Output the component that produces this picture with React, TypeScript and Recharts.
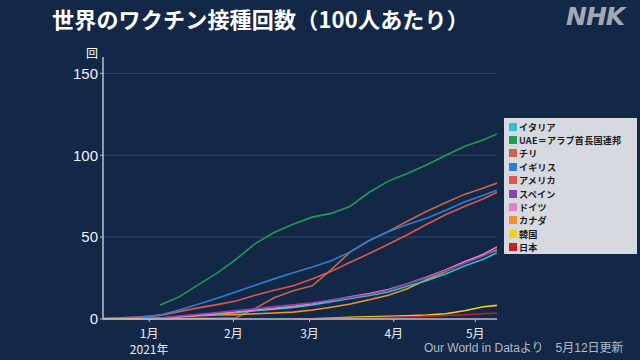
import React from "react";
import { LineChart, Line, XAxis, YAxis, CartesianGrid } from "recharts";

// days since 2021-01-01
const days = [-17, -10, -3, 4, 11, 18, 25, 32, 39, 46, 53, 60, 67, 74, 81, 88, 95, 102, 109, 116, 123, 128];

type V = number | null;
const italy: V[] = [null, null, 0.1, 0.5, 1.5, 2.5, 3.2, 3.9, 5, 6, 7.1, 8.5, 10.5, 12.5, 14.3, 16.5, 20, 23.3, 27.5, 32.3, 36.5, 40.5];
const uae: V[] = [null, null, null, 8.5, 13.5, 20.8, 28, 36.5, 46, 52.8, 57.9, 62.2, 64.5, 68.9, 77.4, 84.2, 88.8, 94, 99.9, 105.3, 109.5, 113];
const chile: V[] = [null, 0, 0.1, 0.2, 0.3, 0.4, 0.5, 0.8, 6.5, 13, 17.2, 20.3, 30.2, 41, 47.9, 53.5, 59.7, 65.7, 71, 76.1, 80, 83];
const uk: V[] = [0.4, 0.8, 1.1, 2.5, 5.5, 9, 12.7, 16.7, 20.6, 24.5, 28.3, 31.8, 35.6, 41, 48, 53.3, 57.7, 61.5, 66.3, 71.4, 75.5, 78.7];
const usa: V[] = [0.3, 0.8, 1.3, 2.2, 4.5, 6.8, 8.8, 11, 14.5, 17.5, 20.3, 24.4, 29.1, 34.6, 40, 45.6, 51.5, 57.7, 63.7, 68.7, 73.5, 77.4];
const spain: V[] = [null, null, 0.05, 0.6, 1.8, 2.9, 4, 5.2, 6.3, 7.6, 8.7, 9.9, 11.6, 13.2, 15, 17.5, 21.5, 25, 29.5, 34, 38.5, 43];
const germany: V[] = [null, null, 0.1, 0.6, 1.5, 2.3, 3.2, 4.3, 5.5, 6.6, 7.8, 9.3, 11.5, 13.5, 15.5, 18, 21.5, 25.5, 30, 35, 39.5, 44];
const canada: V[] = [0, 0.2, 0.3, 0.6, 1.2, 2, 2.4, 2.7, 3.2, 3.7, 4.2, 5.5, 7.2, 9.2, 11.7, 14.5, 18.5, 24, 29, 34.5, 39, 42];
const korea: V[] = [null, null, null, null, null, null, null, null, null, null, null, 0.1, 0.6, 1.1, 1.4, 1.7, 2, 2.4, 3.2, 5, 7.5, 8.3];
const japan: V[] = [null, null, null, null, null, null, null, null, null, null, 0.05, 0.1, 0.2, 0.4, 0.7, 1, 1.2, 1.6, 2.1, 2.6, 3.2, 3.7];

const seriesNames = ["イタリア", "UAE＝アラブ首長国連邦", "チリ", "イギリス", "アメリカ", "スペイン", "ドイツ", "カナダ", "韓国", "日本"];
const seriesValues = [italy, uae, chile, uk, usa, spain, germany, canada, korea, japan];
const seriesColors = ["#2cc3cc", "#1f9b58", "#c9654b", "#2f7fd0", "#e0554f", "#8a44a8", "#ea7fc9", "#f0922e", "#f3cf22", "#c81e2a"];
const drawOrder = [2, 4, 3, 1, 7, 0, 6, 5, 8, 9];

const xTicks = [0, 31, 59, 90, 120];
const xTickLabels = ["1月", "2月", "3月", "4月", "5月"];
const yTicks = [0, 50, 100, 150];

const data = days.map((d, i) => {
  const row: Record<string, number | null> = { d };
  seriesValues.forEach((s, k) => {
    row["s" + k] = s[i];
  });
  return row;
});

const FONT = "'Noto Sans CJK JP', 'Noto Sans', sans-serif";

const XTick = (props: any) => {
  const { x, y, payload } = props;
  const idx = xTicks.indexOf(payload.value);
  return (
    <g>
      <text x={x} y={y + 14} textAnchor="middle" fill="#e8ecf2" fontSize={12} fontFamily={FONT}>
        {xTickLabels[idx]}
      </text>
      {idx === 0 && (
        <text x={x} y={y + 30} textAnchor="middle" fill="#e8ecf2" fontSize={12} fontFamily={FONT}>
          2021年
        </text>
      )}
    </g>
  );
};

const LegendBox = () => (
  <div
    style={{
      position: "absolute",
      left: 504,
      top: 118,
      background: "#d6d9df",
      width: 133,
      height: 136,
      padding: "2px 0 0 5px",
      fontFamily: FONT,
      fontSize: 9.1,
      color: "#1c1c1c",
      boxSizing: "border-box",
    }}
  >
    {seriesNames.map((n, i) => (
      <div key={n} style={{ display: "flex", alignItems: "center", whiteSpace: "nowrap", height: 13.4 }}>
        <span style={{ display: "inline-block", width: 8, height: 8, background: seriesColors[i], marginRight: 2, flex: "none" }} />
        <span style={{ fontWeight: 700, lineHeight: "12px", letterSpacing: 0.2 }}>{n}</span>
      </div>
    ))}
  </div>
);

export default function App() {
  return (
    <div
      style={{
        position: "fixed",
        left: 0,
        top: 0,
        width: 640,
        height: 360,
        background: "#132846",
        overflow: "hidden",
        fontFamily: FONT,
      }}
    >
      <div
        style={{
          position: "absolute",
          left: 52,
          top: 2,
          color: "#ffffff",
          fontSize: 22,
          fontWeight: 700,
          whiteSpace: "nowrap",
          letterSpacing: 0.2,
        }}
      >
        世界のワクチン接種回数（100人あたり）
      </div>
      <div
        style={{
          position: "absolute",
          left: 566,
          top: 2,
          color: "#a3a9b4",
          fontSize: 25,
          fontWeight: 900,
          fontStyle: "italic",
          fontFamily: "'DejaVu Sans', sans-serif",
          letterSpacing: -1,
        }}
      >
        NHK
      </div>
      <div style={{ position: "absolute", left: 86, top: 44, color: "#ffffff", fontSize: 12 }}>回</div>
      <div
        style={{
          position: "absolute",
          left: 424,
          top: 338,
          color: "#b4bac6",
          fontSize: 12,
          whiteSpace: "nowrap",
          fontFamily: "'Liberation Sans', 'Noto Sans CJK JP', sans-serif",
        }}
      >
        Our World in Dataより　5月12日更新
      </div>
      <LineChart
        width={640}
        height={360}
        data={data}
        margin={{ top: 57, right: 143, bottom: 11, left: 63 }}
        style={{ position: "absolute", left: 0, top: 0 }}
      >
        <CartesianGrid vertical={false} stroke="#34476a" strokeWidth={1} horizontalValues={[50, 100, 150]} />
        <XAxis
          dataKey="d"
          type="number"
          domain={[-17, 128]}
          ticks={xTicks}
          tick={<XTick />}
          height={30}
          tickLine={{ stroke: "#b8c0cc" }}
          tickSize={3}
          axisLine={{ stroke: "#b8c0cc", strokeWidth: 1.5 }}
          allowDataOverflow
        />
        <YAxis
          type="number"
          domain={[0, 160]}
          ticks={yTicks}
          width={40}
          tick={{ fill: "#eef1f5", fontSize: 15, fontFamily: "'Liberation Sans', sans-serif" }}
          tickLine={{ stroke: "#b8c0cc" }}
          tickSize={3}
          axisLine={{ stroke: "#b8c0cc", strokeWidth: 1.5 }}
        />
        {drawOrder.map((k) => (
          <Line
            key={k}
            type="linear"
            dataKey={"s" + k}
            name={seriesNames[k]}
            stroke={seriesColors[k]}
            strokeWidth={1.6}
            dot={false}
            isAnimationActive={false}
            connectNulls={false}
          />
        ))}
      </LineChart>
      <LegendBox />
    </div>
  );
}
